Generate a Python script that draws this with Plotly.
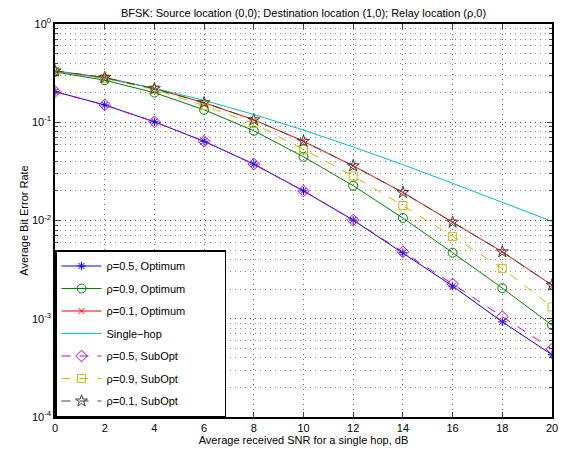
import plotly.graph_objects as go

snr = [0, 2, 4, 6, 8, 10, 12, 14, 16, 18, 20]

rho05_opt = [0.205, 0.150, 0.101, 0.064, 0.0375, 0.0200, 0.0101, 0.0047, 0.00215, 0.00093, 0.00043]
rho09_opt = [0.325, 0.268, 0.200, 0.134, 0.082, 0.0445, 0.0226, 0.0106, 0.0047, 0.00205, 0.00086]
rho01_opt = [0.333, 0.285, 0.220, 0.158, 0.106, 0.064, 0.036, 0.0193, 0.0096, 0.0048, 0.0022]
single_hop = [0.333, 0.279, 0.222, 0.167, 0.120, 0.0833, 0.0560, 0.0370, 0.0239, 0.0154, 0.0098]
rho05_sub = [0.205, 0.150, 0.101, 0.064, 0.0375, 0.0200, 0.0101, 0.0048, 0.00226, 0.00105, 0.00049]
rho09_sub = [0.330, 0.280, 0.215, 0.148, 0.097, 0.053, 0.0283, 0.0142, 0.0069, 0.00326, 0.00132]
rho01_sub = [0.333, 0.285, 0.220, 0.158, 0.106, 0.064, 0.036, 0.0193, 0.0096, 0.0048, 0.0022]

names = ["ρ=0.5, Optimum", "ρ=0.9, Optimum", "ρ=0.1, Optimum", "Single−hop",
         "ρ=0.5, SubOpt", "ρ=0.9, SubOpt", "ρ=0.1, SubOpt"]
series = [rho05_opt, rho09_opt, rho01_opt, single_hop, rho05_sub, rho09_sub, rho01_sub]
colors = ["rgb(0,0,255)", "rgb(0,128,0)", "rgb(255,0,0)", "rgb(0,191,191)",
          "rgb(191,0,191)", "rgb(191,191,0)", "rgb(64,64,64)"]
symbols = ["asterisk-open", "circle-open", "x-thin-open", None,
           "diamond-open", "square-open", "star-open"]
sizes = [7, 9, 6, 0, 9, 8, 9]
dashes = ["solid", "solid", "solid", "solid", "dash", "dash", "dash"]

ytick_vals = [1e-4, 1e-3, 1e-2, 1e-1, 1e0]
ytick_text = ["10<sup>-4</sup>", "10<sup>-3</sup>", "10<sup>-2</sup>", "10<sup>-1</sup>", "10<sup>0</sup>"]
minor_vals = [k * 10.0 ** e for e in range(-4, 0) for k in range(2, 10)]

fig = go.Figure()
for i, (nm, ys, c, s, sz, d) in enumerate(zip(names, series, colors, symbols, sizes, dashes)):
    mode = "lines+markers" if s else "lines"
    marker = dict(symbol=s, size=sz, color=c, line=dict(width=1, color=c)) if s else None
    fig.add_trace(go.Scatter(
        x=snr, y=ys, mode=mode, name=nm + "\u00a0" * 11,
        line=dict(color=c, width=1, dash=d),
        marker=marker, legendgroup=f"g{i}",
    ))

font_family = "Liberation Sans, Arial, sans-serif"

# page body has an 8px margin, so the figure is sized to fit the remaining window
W, H = 573, 442
fig.update_layout(
    width=W, height=H,
    margin=dict(l=47, r=29, t=16, b=33),
    paper_bgcolor="white", plot_bgcolor="white",
    font=dict(family=font_family, size=11, color="black"),
    title=dict(text="BFSK: Source location (0,0); Destination location (1,0); Relay location (ρ,0)",
               x=0.5, xref="paper", xanchor="center", yref="container", y=1 - 5.5 / H, yanchor="middle",
               font=dict(size=11)),
    showlegend=True,
    legend=dict(x=0, y=0, xanchor="left", yanchor="bottom",
                bgcolor="white", bordercolor="black", borderwidth=1.5,
                font=dict(size=11), tracegroupgap=3.5, itemwidth=40),
)

fig.update_xaxes(
    range=[0, 20], tickvals=snr, ticks="inside", ticklen=5, automargin=False,
    showline=True, linecolor="black", linewidth=1.5, mirror="ticks",
    showgrid=True, gridcolor="#666", griddash="1px,4px", gridwidth=1,
    zeroline=False,
    title=dict(text="Average received SNR for a single hop, dB", standoff=2, font=dict(size=11)),
    tickfont=dict(size=11),
)
fig.update_yaxes(
    type="log", range=[-4, 0], tickmode="array", tickvals=ytick_vals, ticktext=ytick_text,
    ticks="inside", ticklen=5, automargin=False,
    showline=True, linecolor="black", linewidth=1.5, mirror="ticks",
    showgrid=True, gridcolor="#444", griddash="1px,4px", gridwidth=1,
    minor=dict(tickmode="array", tickvals=minor_vals, ticks="inside", ticklen=3,
               showgrid=True, gridcolor="#888", griddash="1px,4px", gridwidth=1),
    zeroline=False,
    title=dict(text="Average Bit Error Rate", standoff=1, font=dict(size=11)),
    tickfont=dict(size=11),
)

fig.write_html("out.html")
